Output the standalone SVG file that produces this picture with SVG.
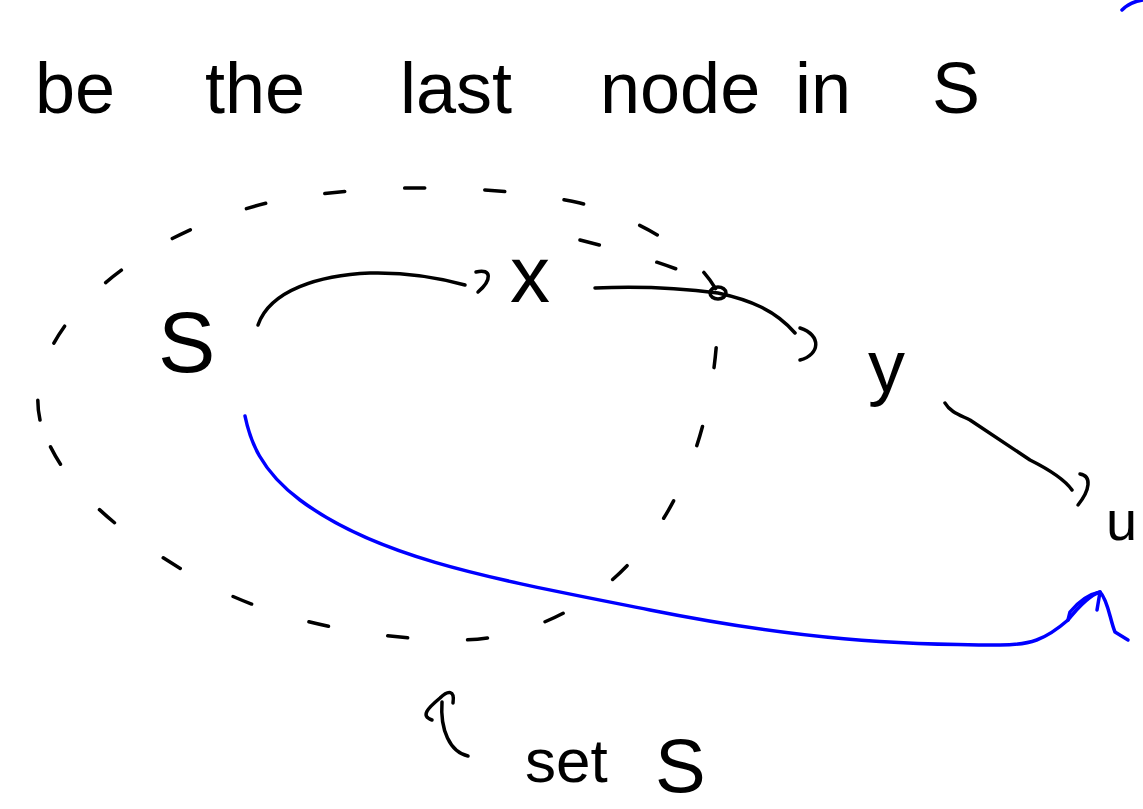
<svg xmlns="http://www.w3.org/2000/svg" width="1143" height="809" viewBox="0 0 1143 809">
<style>
.ink{fill:none;stroke:#000;stroke-width:3.5;stroke-linecap:round;stroke-linejoin:round}
.blue{fill:none;stroke:#0000ff;stroke-width:3.5;stroke-linecap:round;stroke-linejoin:round}
.dash{fill:none;stroke:#000;stroke-width:3.5;stroke-linecap:round;stroke-dasharray:20 60}
.hand{font-family:"Liberation Sans","DejaVu Sans",sans-serif;fill:#000}
</style>
<rect width="1143" height="809" fill="#fff"/>
<g id="title">
<text class="hand" font-size="72" y="113"><tspan x="35">be</tspan><tspan x="205">the</tspan><tspan x="400">last</tspan><tspan x="600">node</tspan><tspan x="795">in</tspan><tspan x="932">S</tspan></text>
</g>
<g id="setS">
<path class="dash" d="M40,420 C20,330 140,230 280,200 C380,182 500,185 580,203 C650,222 700,258 718,293 C720,400 690,520 600,590 C560,620 510,640 460,640 C370,640 270,620 200,580 C130,540 60,490 40,420 Z"/>
<path class="dash" d="M580,240 C620,250 660,262 700,278"/>
<path class="ink" d="M468,756 C450,752 440,730 442,702"/>
<path class="ink" d="M432,720 C420,716 428,708 440,698 C448,690 455,690 453,703"/>
<text class="hand" font-size="62" y="782"><tspan x="525">set</tspan><tspan x="655" font-size="76" dy="10">S</tspan></text>
</g>
<g id="node-S"><text class="hand" font-size="86" x="158" y="372">S</text></g>
<g id="node-x"><text class="hand" font-size="80" x="510" y="302">x</text></g>
<g id="node-y"><text class="hand" font-size="74" x="868" y="392">y</text></g>
<g id="node-u"><text class="hand" font-size="56" x="1106" y="540">u</text></g>
<g id="connectors">
<path class="ink" d="M258,325 C270,290 320,275 370,273 C410,272 440,278 465,285"/>
<path class="ink" d="M476,272 C492,268 492,280 478,292"/>
<path class="ink" d="M595,288 C640,286 680,288 718,293 C750,300 775,310 795,333"/>
<ellipse class="ink" cx="718" cy="293" rx="8" ry="6"/>
<path class="ink" d="M800,328 C822,335 820,355 800,360"/>
<path class="ink" d="M945,403 C950,412 960,415 970,420 L1030,460 C1050,470 1065,480 1072,490"/>
<path class="ink" d="M1080,474 C1092,476 1090,490 1078,505"/>
<path class="blue" d="M245,416 C250,440 260,470 300,500 C380,560 500,580 650,610 C800,640 900,645 1000,645 C1030,645 1045,640 1068,620 C1080,605 1090,595 1100,592"/>
<path class="blue" d="M1068,620 L1070,612 C1080,600 1090,594 1100,592 L1097,610 M1100,592 C1108,600 1110,620 1115,632 L1128,640"/>
<path class="blue" d="M1122,10 C1128,4 1135,1 1143,0"/>
</g>
</svg>
